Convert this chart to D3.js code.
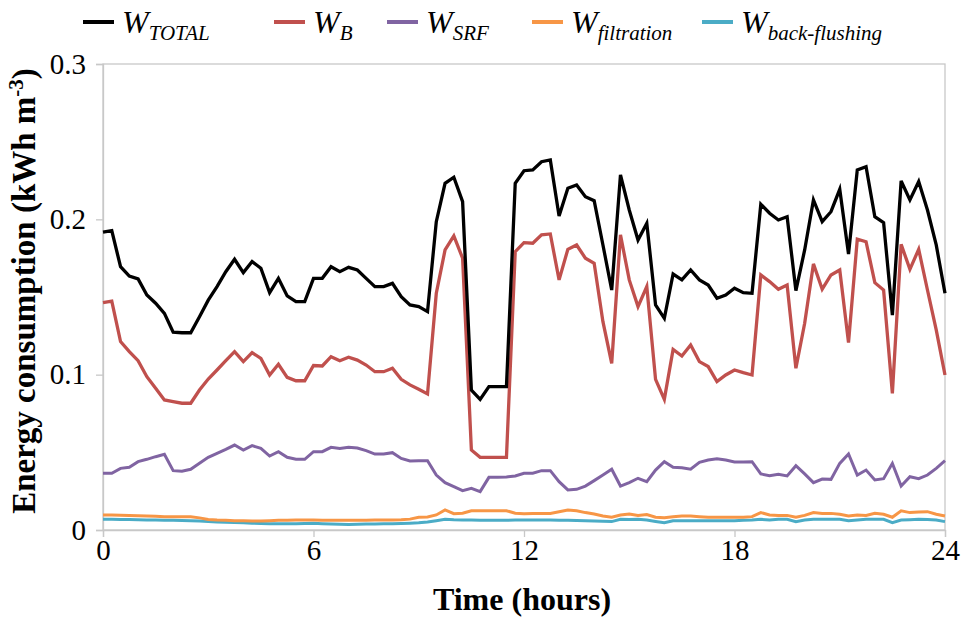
<!DOCTYPE html>
<html>
<head>
<meta charset="utf-8">
<script src="https://cdnjs.cloudflare.com/ajax/libs/d3/7.8.5/d3.min.js"></script>
<style>
  body { margin: 0; background: #fff; }
  svg text { font-family: "Liberation Serif", "Times New Roman", serif; }
</style>
</head>
<body>
<div id="chart"></div>
<script>
// sampling times (hours), every 15 min
var hours = [0,0.25,0.5,0.75,1,1.25,1.5,1.75,2,2.25,2.5,2.75,3,3.25,3.5,3.75,4,4.25,4.5,4.75,5,5.25,5.5,5.75,
  6,6.25,6.5,6.75,7,7.25,7.5,7.75,8,8.25,8.5,8.75,9,9.25,9.5,9.75,10,10.25,10.5,10.75,11,11.25,11.5,11.75,
  12,12.25,12.5,12.75,13,13.25,13.5,13.75,14,14.25,14.5,14.75,15,15.25,15.5,15.75,16,16.25,16.5,16.75,17,17.25,17.5,17.75,
  18,18.25,18.5,18.75,19,19.25,19.5,19.75,20,20.25,20.5,20.75,21,21.25,21.5,21.75,22,22.25,22.5,22.75,23,23.25,23.5,23.75,24];

var wTotal = [.1917,.1927,.1695,.1635,.1616,.1513,.146,.1395,.1273,.127,.127,.1373,.148,.1567,.1663,.1743,.1657,.1728,.1685,.1528,.162,.1507,.147,.147,.162,
  .162,.1695,.1663,.1691,.1674,.162,.1567,.1567,.1588,.1502,.1449,.1438,.1406,.1985,.2232,.2271,.2114,.0901,.0841,.0923,.0923,.0923,.2232,.2313,
  .2318,.2371,.2382,.2022,.22,.2221,.2146,.212,.1835,.1545,.2286,.206,.1867,.1975,.1449,.1363,.1648,.161,.1674,.161,.1577,.1492,.1513,.1556,
  .1528,.1524,.2097,.2039,.1996,.2017,.1541,.1803,.2125,.1985,.2049,.2193,.1777,.2318,.2339,.2017,.1979,.1384,.2247,.2125,.2243,.206,.1835,.1524];

var wB = [.1464,.1474,.1213,.1148,.109,.0987,.0912,.0837,.0826,.0816,.0816,.0901,.0972,.103,.109,.1148,.1084,.1142,.1105,.0998,.1067,.0983,.0961,.0961,.1059,
  .1056,.1116,.109,.1112,.1094,.1062,.1019,.1019,.1041,.097,.0934,.0906,.0876,.1524,.1803,.1893,.175,.0515,.0468,.0468,.0468,.0468,.1792,.185,
  .1846,.19,.1906,.161,.1807,.1835,.175,.1717,.1341,.1073,.19,.161,.1438,.1567,.097,.0841,.1163,.112,.1191,.1084,.1052,.0955,.0998,.103,
  .1013,.0998,.1642,.1599,.155,.1577,.1041,.1331,.1713,.155,.1642,.1674,.1206,.1872,.1856,.1592,.1545,.088,.1839,.1678,.1807,.1545,.1288,.0998];

var wSRF = [.0365,.0365,.0397,.0404,.044,.0455,.0472,.0487,.0382,.0378,.0391,.0429,.0468,.0494,.0519,.0547,.0515,.0543,.0526,.0476,.0504,.0468,.0455,.0455,
  .0504,.0504,.0532,.0524,.0532,.0528,.0511,.0489,.0489,.0498,.0461,.0444,.0446,.0446,.0354,.0305,.0279,.0253,.0268,.0247,.0339,.0339,.0341,.0348,.0365,
  .0365,.0382,.0382,.0311,.0258,.0262,.0283,.0318,.0354,.0391,.0283,.0305,.0333,.0311,.0386,.044,.0404,.0401,.0391,.0436,.0451,.0459,.0451,.0438,
  .0438,.044,.0361,.035,.0359,.0348,.0414,.0361,.0305,.0328,.0326,.0429,.0489,.0354,.0386,.0322,.033,.0429,.0283,.0343,.033,.0354,.0397,.0446];

var wFiltration = [.0097,.0097,.0095,.0093,.0092,.009,.0088,.0086,.0086,.0086,.0085,.0078,.0068,.0064,.0062,.006,.0059,.0058,.0058,.006,.0062,.0062,.0064,.0065,
  .0064,.0062,.0062,.0062,.0062,.0063,.0063,.0064,.0064,.0064,.0066,.007,.0082,.0084,.0097,.0129,.0105,.0108,.0124,.0124,.0124,.0124,.0124,.0108,.0105,
  .0107,.0107,.0107,.0118,.0129,.0124,.0112,.0103,.009,.0082,.0097,.0103,.0094,.0099,.0082,.0079,.0086,.009,.009,.0086,.0082,.0082,.0082,.0082,
  .0082,.0086,.0112,.0097,.0094,.0094,.0082,.0094,.0112,.0107,.0107,.0101,.009,.0097,.0094,.0107,.0101,.0082,.0124,.0112,.0116,.0118,.0101,.009];

var wBackFlushing = [.0069,.0069,.0068,.0067,.0066,.0065,.0064,.0063,.0062,.0061,.006,.0058,.0055,.0052,.005,.0048,.0046,.0044,.0042,.0041,.004,.004,.0041,.0042,
  .0043,.0041,.0039,.0037,.0036,.0037,.0038,.0039,.004,.0041,.0042,.0044,.0046,.0052,.006,.0069,.0066,.0065,.0064,.0063,.0062,.0062,.0063,.0064,.0064,
  .0064,.0064,.0064,.0062,.0062,.0061,.006,.0058,.0056,.0054,.0069,.0068,.0069,.0064,.0055,.0047,.006,.006,.006,.006,.006,.006,.006,.006,
  .0062,.0064,.0069,.0064,.0069,.0069,.0054,.0064,.0069,.0069,.0069,.0069,.006,.0064,.0069,.0069,.0069,.0047,.0064,.0066,.0069,.0068,.0064,.0054];

var xTicks = [0, 6, 12, 18, 24];
var yTicks = [0, 0.1, 0.2, 0.3];

var seriesNames = [["W", "TOTAL"], ["W", "B"], ["W", "SRF"], ["W", "filtration"], ["W", "back-flushing"]];
var seriesColors = ["#000000", "#c0504d", "#8064a2", "#f79646", "#4bacc6"];

function init() {
  var w = 962, h = 622;
  var left = 103, right = 945, top = 64, bottom = 530;

  var svg = d3.select("#chart").append("svg")
      .attr("width", w)
      .attr("height", h);

  var x = d3.scaleLinear().domain([0, 24]).range([left, right]);
  var y = d3.scaleLinear().domain([0, 0.3]).range([bottom, top]);

  // plot frame
  svg.append("rect")
      .attr("x", left).attr("y", top)
      .attr("width", right - left).attr("height", bottom - top)
      .attr("fill", "none").attr("stroke", "#c8c8c8").attr("stroke-width", 1.3);

  var xAxis = svg.append("g")
      .attr("transform", "translate(0," + bottom + ")")
      .call(d3.axisBottom(x).tickValues(xTicks).tickSize(7).tickPadding(2).tickFormat(d3.format("d")));
  var yAxis = svg.append("g")
      .attr("transform", "translate(" + left + ",0)")
      .call(d3.axisLeft(y).tickValues(yTicks).tickSize(7).tickPadding(10)
        .tickFormat(function (d) { return d === 0 ? "0" : d3.format(".1f")(d); }));

  [xAxis, yAxis].forEach(function (g) {
    g.attr("font-family", null);
    g.select(".domain").attr("stroke", "#c8c8c8").attr("stroke-width", 1.3);
    g.selectAll(".tick line").attr("stroke", "#c8c8c8").attr("stroke-width", 1.3);
    g.selectAll(".tick text")
        .attr("fill", "#000")
        .style("font-family", "'Liberation Serif', serif")
        .style("font-size", "29px");
  });

  // series lines
  var allSeries = [wTotal, wB, wSRF, wFiltration, wBackFlushing];
  var line = d3.line()
      .x(function (d, i) { return x(hours[i]); })
      .y(function (d) { return y(d); });

  for (var k = allSeries.length - 1; k >= 0; k--) {
    svg.append("path")
        .datum(allSeries[k])
        .attr("fill", "none")
        .attr("stroke", seriesColors[k])
        .attr("stroke-width", k < 2 ? 3.3 : 3)
        .attr("stroke-linejoin", "miter")
        .attr("d", line);
  }

  // axis titles
  svg.append("text")
      .attr("x", (left + right) / 2 - 2)
      .attr("y", 610)
      .attr("text-anchor", "middle")
      .style("font-weight", "bold")
      .style("font-size", "32px")
      .text("Time (hours)");

  var yTitle = svg.append("text")
      .attr("transform", "translate(35," + ((top + bottom) / 2 - 6) + ") rotate(-90)")
      .attr("text-anchor", "middle")
      .style("font-weight", "bold")
      .style("font-size", "33px");
  yTitle.append("tspan").text("Energy consumption (kWh m");
  yTitle.append("tspan").attr("dy", -12).style("font-size", "21px").text("-3");
  yTitle.append("tspan").attr("dy", 12).text(")");

  // legend
  var legendX = [83, 274, 387, 532, 702];
  var legend = svg.selectAll(".legend")
      .data(seriesNames)
      .enter().append("g")
      .attr("class", "legend")
      .attr("transform", function (d, i) { return "translate(" + legendX[i] + ",22)"; });

  legend.append("line")
      .attr("x1", 0).attr("x2", 31)
      .attr("y1", 0).attr("y2", 0)
      .attr("stroke", function (d, i) { return seriesColors[i]; })
      .attr("stroke-width", 4);

  var lt = legend.append("text")
      .attr("x", 39).attr("y", 11)
      .style("font-style", "italic")
      .style("font-size", "32px");
  lt.append("tspan").text(function (d) { return d[0]; });
  lt.append("tspan").attr("dy", 7).style("font-size", "21px").text(function (d) { return d[1]; });
}

window.onload = init;
</script>
</body>
</html>
